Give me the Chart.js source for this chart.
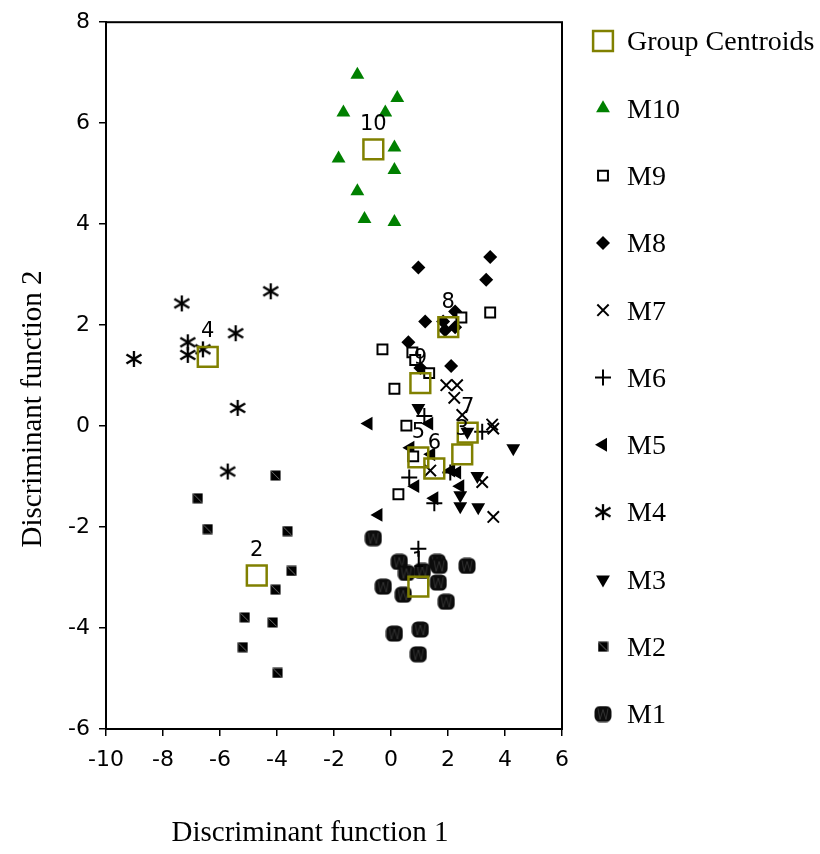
<!DOCTYPE html>
<html><head><meta charset="utf-8">
<script src="https://cdn.jsdelivr.net/npm/chart.js@4.4.1/dist/chart.umd.min.js"></script>
<style>html,body{margin:0;padding:0;background:#fff}canvas{display:block}</style>
</head><body>
<canvas id="c" width="820" height="854"></canvas>
<script>
// ---- data ----
const xTicks = [-10, -8, -6, -4, -2, 0, 2, 4, 6];
const yTicks = [-6, -4, -2, 0, 2, 4, 6, 8];
const xTitle = 'Discriminant function 1';
const yTitle = 'Discriminant function 2';
const legendNames = ['Group Centroids', 'M10', 'M9', 'M8', 'M7', 'M6', 'M5', 'M4', 'M3', 'M2', 'M1'];

const centroidLabels = ['10', '4', '2', '8', '9', '7', '3', '5', '6', '1'];
const centroidX = [-0.62, -6.43, -4.71, 2.01, 1.03, 2.69, 2.50, 0.96, 1.52, 0.96];
const centroidY = [5.48, 1.37, -2.96, 1.96, 0.85, -0.13, -0.56, -0.62, -0.84, -3.18];

const m10X = [-1.18, 0.22, -1.67, -0.20, 0.12, -1.84, 0.12, -1.18, -0.93, 0.12];
const m10Y = [6.96, 6.50, 6.21, 6.21, 5.52, 5.30, 5.07, 4.65, 4.10, 4.04];

const m9X = [3.48, 2.47, -0.30, 0.75, 0.85, 1.34, 0.12, 0.54, 0.78, 0.26];
const m9Y = [2.25, 2.15, 1.52, 1.46, 1.31, 1.05, 0.74, 0.01, -0.60, -1.35];

const m8X = [3.48, 0.96, 3.34, 2.25, 1.20, 1.83, 2.25, 1.90, 0.61, 2.11, 1.03];
const m8Y = [3.35, 3.14, 2.90, 2.27, 2.07, 2.07, 1.96, 1.90, 1.66, 1.19, 1.15];

const m7X = [1.94, 2.32, 2.22, 2.50, 3.55, 3.59, 1.38, 3.20, 3.59];
const m7Y = [0.81, 0.81, 0.56, 0.22, 0.03, -0.05, -0.88, -1.11, -1.80];

const m6X = [1.17, 3.20, 2.08, 0.64, 1.52, 0.96];
const m6Y = [0.20, -0.11, -0.92, -1.02, -1.53, -2.43];

const m5X = [-0.79, 1.34, 0.68, 1.41, 2.11, 2.32, 0.85, 2.43, 1.52, -0.44];
const m5Y = [0.05, 0.05, -0.43, -0.56, -0.88, -0.92, -1.19, -1.19, -1.43, -1.76];

const m4X = [-4.22, -7.34, -7.13, -7.13, -6.60, -5.45, -9.02, -5.38, -5.73];
const m4Y = [2.67, 2.43, 1.66, 1.41, 1.52, 1.84, 1.33, 0.36, -0.90];

const m3X = [0.96, 2.68, 4.29, 3.03, 2.43, 2.43, 3.06];
const m3Y = [0.36, -0.11, -0.44, -0.99, -1.37, -1.59, -1.61];

const m2X = [-4.05, -6.78, -6.43, -3.63, -3.49, -4.05, -5.13, -4.15, -5.20, -3.98];
const m2Y = [-0.98, -1.43, -2.04, -2.08, -2.87, -3.24, -3.79, -3.89, -4.38, -4.89];

const m1X = [-0.62, 0.29, 1.62, 1.69, 2.67, 0.54, 1.10, -0.27, 1.66, 0.43, 1.94, 0.12, 1.03, 0.96];
const m1Y = [-2.22, -2.69, -2.69, -2.77, -2.77, -2.91, -2.87, -3.18, -3.10, -3.34, -3.48, -4.11, -4.03, -4.52];

// ---- marker images ----
function makeImg(w, h, draw) {
  const c = document.createElement('canvas'); c.width = w; c.height = h;
  draw(c.getContext('2d')); return c;
}
const asteriskImg = makeImg(18, 18, g => {
  g.strokeStyle = '#000'; g.lineWidth = 2.3; g.lineCap = 'butt';
  g.beginPath();
  g.moveTo(9, 1); g.lineTo(9, 17);
  g.moveTo(1.5, 4.5); g.lineTo(16.5, 13.5);
  g.moveTo(16.5, 4.5); g.lineTo(1.5, 13.5);
  g.stroke();
});
const m2Img = makeImg(11, 11, g => {
  g.fillStyle = '#000'; g.fillRect(0.5, 0.5, 10, 10);
  g.strokeStyle = '#8a8a8a'; g.lineWidth = 0.8;
  g.beginPath(); g.moveTo(1.5, 1.5); g.lineTo(9.5, 9.5); g.stroke();
});
const m1Img = makeImg(18, 17, g => {
  const r = 5.5, x = 0.5, y = 0.5, w = 17, h = 16;
  g.beginPath();
  g.moveTo(x + r, y); g.lineTo(x + w - r, y); g.arcTo(x + w, y, x + w, y + r, r);
  g.lineTo(x + w, y + h - r); g.arcTo(x + w, y + h, x + w - r, y + h, r);
  g.lineTo(x + r, y + h); g.arcTo(x, y + h, x, y + h - r, r);
  g.lineTo(x, y + r); g.arcTo(x, y, x + r, y, r); g.closePath();
  g.fillStyle = '#0c0c0c'; g.fill();
  g.strokeStyle = '#3c3c3c'; g.lineWidth = 0.8;
  g.beginPath();
  g.moveTo(4, 3); g.lineTo(6, 14); g.lineTo(9, 4); g.lineTo(12, 14); g.lineTo(14, 3);
  g.stroke();
});

// ---- styles ----
const centroidStyle = { pointStyle: 'rect', pointRadius: 14, pointBackgroundColor: 'rgba(0,0,0,0)', pointBorderColor: '#808000', pointBorderWidth: 2.5 };
const seriesStyles = {
  M10: { pointStyle: 'triangle', pointRadius: 8, pointBackgroundColor: '#008000', pointBorderColor: '#008000', pointBorderWidth: 0 },
  M9:  { pointStyle: 'rect', pointRadius: 7, pointBackgroundColor: '#fff', pointBorderColor: '#000', pointBorderWidth: 2 },
  M8:  { pointStyle: 'rectRot', pointRadius: 7, pointBackgroundColor: '#000', pointBorderColor: '#000', pointBorderWidth: 0 },
  M7:  { pointStyle: 'crossRot', pointRadius: 8, pointBackgroundColor: '#000', pointBorderColor: '#000', pointBorderWidth: 2 },
  M6:  { pointStyle: 'cross', pointRadius: 8, pointBackgroundColor: '#000', pointBorderColor: '#000', pointBorderWidth: 2 },
  M5:  { pointStyle: 'triangle', pointRotation: -90, pointRadius: 8, pointBackgroundColor: '#000', pointBorderColor: '#000', pointBorderWidth: 0 },
  M4:  { pointStyle: asteriskImg, pointRadius: 9, pointBackgroundColor: '#000', pointBorderColor: '#000', pointBorderWidth: 0 },
  M3:  { pointStyle: 'triangle', pointRotation: 180, pointRadius: 8, pointBackgroundColor: '#000', pointBorderColor: '#000', pointBorderWidth: 0 },
  M2:  { pointStyle: m2Img, pointRadius: 6, pointBackgroundColor: '#000', pointBorderColor: '#000', pointBorderWidth: 0 },
  M1:  { pointStyle: m1Img, pointRadius: 8, pointBackgroundColor: '#111', pointBorderColor: '#111', pointBorderWidth: 0 }
};

function pts(xs, ys) { return xs.map((x, i) => ({ x: x, y: ys[i] })); }
function ds(label, xs, ys, style) {
  return Object.assign({ label: label, data: pts(xs, ys), showLine: false, pointHoverRadius: style.pointRadius }, style);
}

const datasets = [
  ds('Group Centroids', centroidX, centroidY, centroidStyle),
  ds('M10', m10X, m10Y, seriesStyles.M10),
  ds('M9', m9X, m9Y, seriesStyles.M9),
  ds('M8', m8X, m8Y, seriesStyles.M8),
  ds('M7', m7X, m7Y, seriesStyles.M7),
  ds('M6', m6X, m6Y, seriesStyles.M6),
  ds('M5', m5X, m5Y, seriesStyles.M5),
  ds('M4', m4X, m4Y, seriesStyles.M4),
  ds('M3', m3X, m3Y, seriesStyles.M3),
  ds('M2', m2X, m2Y, seriesStyles.M2),
  ds('M1', m1X, m1Y, seriesStyles.M1)
];

const sansFont = '"DejaVu Sans", Verdana, sans-serif';
const serifFont = '"Liberation Serif", "Times New Roman", serif';

// ---- plugins ----
const boxPlugin = {
  id: 'boxPlugin',
  beforeDatasetsDraw(chart) {
    const { ctx, chartArea: a } = chart;
    ctx.save(); ctx.strokeStyle = '#000'; ctx.lineWidth = 2;
    ctx.strokeRect(a.left, a.top, a.right - a.left, a.bottom - a.top);
    ctx.restore();
  }
};
const centroidLabelPlugin = {
  id: 'centroidLabels',
  afterDatasetsDraw(chart) {
    const { ctx, scales } = chart;
    ctx.save();
    ctx.fillStyle = '#000'; ctx.font = '21px ' + sansFont;
    ctx.textAlign = 'center'; ctx.textBaseline = 'middle';
    centroidLabels.forEach((t, i) => {
      ctx.fillText(t, scales.x.getPixelForValue(centroidX[i]), scales.y.getPixelForValue(centroidY[i]) - 25);
    });
    ctx.restore();
  }
};
const titlesPlugin = {
  id: 'titles',
  afterDraw(chart) {
    const ctx = chart.ctx;
    ctx.save();
    ctx.fillStyle = '#000'; ctx.font = '29px ' + serifFont;
    ctx.textAlign = 'center'; ctx.textBaseline = 'middle';
    ctx.fillText(xTitle, 310, 833);
    ctx.translate(33, 409); ctx.rotate(-Math.PI / 2);
    ctx.fillText(yTitle, 0, 0);
    ctx.restore();
  }
};
const legendPlugin = {
  id: 'sideLegend',
  afterDraw(chart) {
    const ctx = chart.ctx;
    const markerX = 603, textX = 627, startY = 41, step = 67.3;
    ctx.save();
    legendNames.forEach((name, i) => {
      const d = chart.data.datasets[i];
      const y = startY + i * step;
      ctx.save();
      ctx.fillStyle = d.pointBackgroundColor;
      ctx.strokeStyle = d.pointBorderColor;
      ctx.lineWidth = d.pointBorderWidth;
      Chart.helpers.drawPoint(ctx, { pointStyle: d.pointStyle, radius: d.pointRadius, rotation: d.pointRotation || 0, borderWidth: d.pointBorderWidth }, markerX, y);
      ctx.restore();
      ctx.fillStyle = '#000'; ctx.font = '28px ' + serifFont;
      ctx.textAlign = 'left'; ctx.textBaseline = 'middle';
      ctx.fillText(name, textX, y + 2);
    });
    ctx.restore();
  }
};

const chart = new Chart(document.getElementById('c'), {
  type: 'scatter',
  data: { datasets: datasets },
  options: {
    responsive: false, animation: false, devicePixelRatio: 1,
    layout: { padding: { left: 40, top: 8, right: 250, bottom: 90 } },
    plugins: { legend: { display: false }, tooltip: { enabled: false } },
    scales: {
      x: {
        type: 'linear', min: -10, max: 6,
        afterBuildTicks: s => { s.ticks = xTicks.map(v => ({ value: v })); },
        grid: { drawOnChartArea: false, drawTicks: true, tickLength: 7, color: '#000', lineWidth: 1.5 },
        border: { display: true, color: '#000', width: 2 },
        ticks: { color: '#000', padding: 11, font: { size: 22, family: sansFont } }
      },
      y: {
        type: 'linear', min: -6, max: 8,
        afterBuildTicks: s => { s.ticks = yTicks.map(v => ({ value: v })); },
        grid: { drawOnChartArea: false, drawTicks: true, tickLength: 7, color: '#000', lineWidth: 1.5 },
        border: { display: true, color: '#000', width: 2 },
        ticks: { color: '#000', padding: 9, font: { size: 22, family: sansFont } }
      }
    }
  },
  plugins: [boxPlugin, centroidLabelPlugin, titlesPlugin, legendPlugin]
});

// align plot area with the reference frame
const target = { left: 106, top: 20, right: 562, bottom: 729 };
for (let k = 0; k < 3; k++) {
  const a = chart.chartArea, p = chart.options.layout.padding;
  p.left += target.left - a.left;
  p.top += target.top - a.top;
  p.right += a.right - target.right;
  p.bottom += a.bottom - target.bottom;
  chart.update('none');
}
</script>
</body></html>
